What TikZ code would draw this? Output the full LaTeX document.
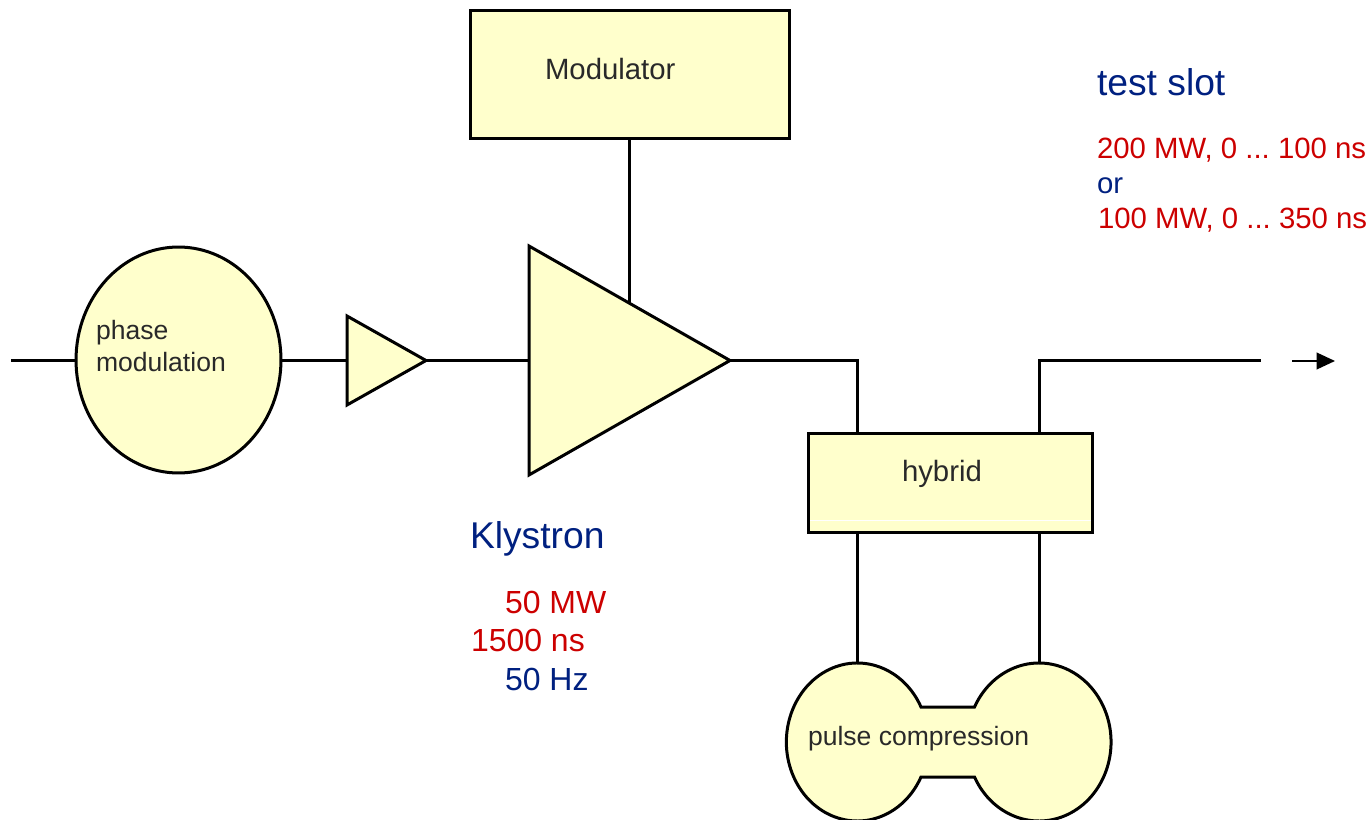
\documentclass[tikz,border=0pt]{standalone}
\usepackage{xcolor}
\usepackage{fontspec}
\setmainfont{Liberation Sans}
\usepackage{tikz}
\usetikzlibrary{arrows.meta}
\usetikzlibrary{shapes.geometric}
\frenchspacing
\tikzset{
	>={Triangle[length=10.5pt,width=9.5pt]},
	block/.style={draw=black, fill=color3, rectangle, inner sep=0pt, outer sep=0pt},
	round/.style={draw=black, fill=color3, ellipse, inner sep=0pt, outer sep=0pt},
	amp/.style={draw=black, fill=color3, isosceles triangle, isosceles triangle stretches,
		shape border uses incircle=false, inner sep=0pt, outer sep=0pt, anchor=apex},
	wire/.style={draw=black, line join=miter},
	label/.style={anchor=base west, inner sep=0pt, outer sep=0pt, text=color4},
	smalltext/.style={label, font=\fontsize{15.1pt}{18pt}\selectfont},
	medtext/.style={label, font=\fontsize{16.7pt}{20pt}\selectfont},
	midtext/.style={label, font=\fontsize{18.2pt}{22pt}\selectfont},
	bigtext/.style={label, font=\fontsize{21.2pt}{25pt}\selectfont},
}
\definecolor{color1}{RGB}{0,32,128}
\definecolor{color2}{RGB}{204,0,0}
\definecolor{color3}{RGB}{255,255,204}
\definecolor{color4}{RGB}{41,41,41}

\begin{document}
\begin{tikzpicture}[x=0.02cm, y=-0.02cm, line width=0.06cm]
\useasboundingbox (0,0) rectangle (1372,820);

\coordinate (inlet) at (11,360.5);
\coordinate (klytop) at (629,302);
\coordinate (hybin) at (857,433);
\coordinate (hybout) at (1039,433);
\coordinate (hybleft) at (857,533);
\coordinate (hybright) at (1039,533);
\coordinate (pcleft) at (857,663);
\coordinate (pcright) at (1039,663);
\coordinate (outlet) at (1261,360.5);
\coordinate (dirtail) at (1292,361);
\coordinate (dirhead) at (1335,361);

\node[block, minimum width=6.4cm, minimum height=2.58cm] (modulator) at (630,74.5) {};
\node[medtext] (modulatortext) at (545,80) {Modulator};

\node[round, minimum width=4.1cm, minimum height=4.52cm] (phase) at (178.5,360) {};
\node[smalltext] (phasetext) at (96,340) {phase};
\node[smalltext] (modulationtext) at (96,372) {modulation};

\node[amp, minimum height=1.58cm, minimum width=1.78cm] (driver) at (426,360.5) {};
\node[amp, minimum height=4.02cm, minimum width=4.58cm] (klystron) at (730,360.5) {};

\node[block, minimum width=5.7cm, minimum height=2cm] (hybrid) at (950.5,483) {};
\node[medtext] (hybridtext) at (902,481) {hybrid};
\draw[white, line width=0.02cm] (810,520) -- (1091,520);

\draw[wire, fill=color3] (921,707) arc[start angle=-26.3, end angle=-333.7, x radius=71, y radius=79]
	-- (974.5,777) arc[start angle=153.7, end angle=-153.7, x radius=72, y radius=79] -- cycle;
\node[smalltext] (pulsetext) at (808,745) {pulse compression};

\draw[wire] (inlet) -- (phase.west |- inlet);
\draw[wire] (phase.east |- inlet) -- (driver.west);
\draw[wire] (driver.apex) -- (klystron.west);
\draw[wire] (modulator.south -| klytop) -- (klytop);
\draw[wire] (klystron.apex) -| (hybin);
\draw[wire] (hybout) |- (outlet);
\draw[wire] (hybleft) -- (pcleft);
\draw[wire] (hybright) -- (pcright);
\draw[->, line width=0.04cm] (dirtail) -- (dirhead);

\node[bigtext, text=color1] (klystrontext) at (470,548) {Klystron};
\node[midtext, text=color2] (powertext) at (505,613) {50 MW};
\node[midtext, text=color2] (lengthtext) at (471,651) {1500 ns};
\node[midtext, text=color1] (ratetext) at (505,690) {50 Hz};

\node[bigtext, text=color1] (slottext) at (1097,96) {test slot};
\node[medtext, text=color2] (shorttext) at (1097,159) {200 MW, 0 ... 100 ns};
\node[medtext, text=color1] (ortext) at (1097,194) {or};
\node[medtext, text=color2] (longtext) at (1098,229) {100 MW, 0 ... 350 ns};
\end{tikzpicture}
\end{document}
